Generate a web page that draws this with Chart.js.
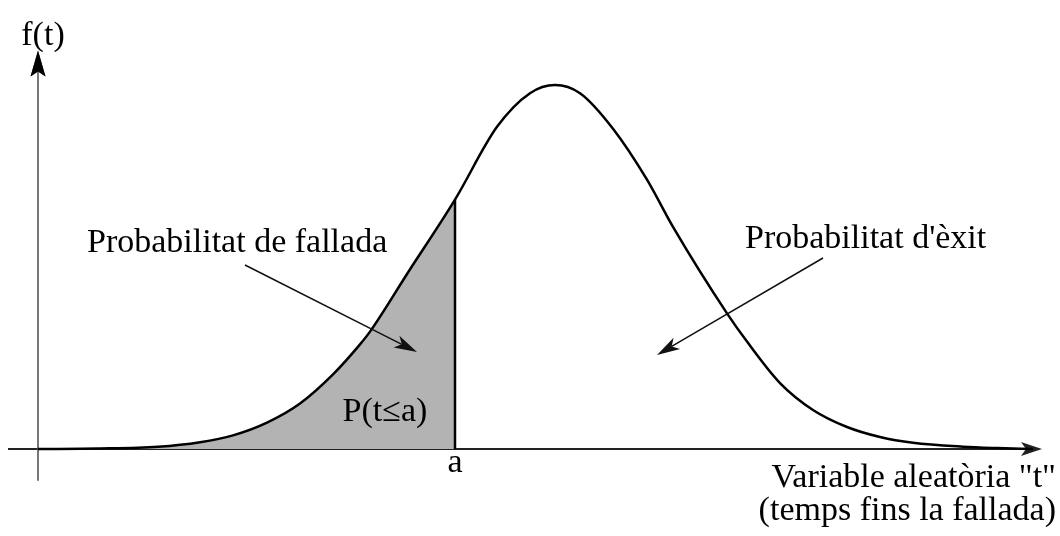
<!DOCTYPE html>
<html>
<head>
<meta charset="utf-8">
<script src="https://cdn.jsdelivr.net/npm/chart.js@4/dist/chart.umd.min.js"></script>
<style>
  html, body { margin: 0; padding: 0; background: #fff; }
  #wrap { width: 1060px; height: 536px; }
</style>
</head>
<body>
<div id="wrap"><canvas id="chart" width="1060" height="536"></canvas></div>
<script>
// density curve, values
const tValues = [0, 0.6, 1.2, 1.62, 1.95, 2.29, 2.62, 2.95, 3.22, 3.32, 3.7, 4.17, 4.59, 4.92, 5.17,
                 5.42, 5.75, 6.09, 6.35, 6.89, 7.09, 7.42, 7.75, 8.09, 8.42, 8.75, 9.25, 9.59, 9.95];
const fValues = [0, 0.0005, 0.0025, 0.0075, 0.015, 0.029, 0.050, 0.082, 0.115, 0.129, 0.194, 0.274, 0.354, 0.391, 0.400,
                 0.391, 0.352, 0.296, 0.244, 0.149, 0.118, 0.0725, 0.0429, 0.0242, 0.0132, 0.0068, 0.0025, 0.001, 0];
const aValue = 4.17;

const yAxisTitle = 'f(t)';
const xAxisTitle = ['Variable aleatòria "t"', '(temps fins la fallada)'];
const failText = 'Probabilitat de fallada';
const successText = "Probabilitat d'èxit";
const areaText = 'P(t≤a)';
const aText = 'a';

const curve = tValues.map((t, i) => ({ x: t, y: fValues[i] }));
const shaded = curve.filter(p => p.x <= aValue);
const fAtA = fValues[tValues.indexOf(aValue)];

// where the words and pointer arrows go (data units)
const notes = [
  { text: yAxisTitle, x: 0.05, y: 0.444, align: 'center' },
  { text: failText, x: 0.49, y: 0.2165, align: 'left' },
  { text: successText, x: 7.07, y: 0.2209, align: 'left' },
  { text: areaText, x: 3.47, y: 0.0308, align: 'center' },
  { text: aText, x: aValue, y: -0.0253, align: 'center' },
  { text: xAxisTitle[0], x: 10.18, y: -0.0418, align: 'right' },
  { text: xAxisTitle[1], x: 10.18, y: -0.078, align: 'right' }
];
const pointers = [
  { from: [2.07, 0.2022], to: [3.79, 0.1066] },
  { from: [7.85, 0.2099], to: [6.19, 0.1033] }
];

const FONT = '34px "Liberation Serif", "DejaVu Serif", serif';

function arrowHead(ctx, x, y, ang, L, W, N) {
  ctx.save();
  ctx.translate(x, y);
  ctx.rotate(ang);
  ctx.beginPath();
  ctx.moveTo(0, 0);
  ctx.lineTo(-L, -W);
  ctx.lineTo(-L + N, 0);
  ctx.lineTo(-L, W);
  ctx.closePath();
  ctx.fill();
  ctx.restore();
}

function arrowLine(ctx, x1, y1, x2, y2, L, W, N, lw, color) {
  const ang = Math.atan2(y2 - y1, x2 - x1);
  ctx.save();
  ctx.strokeStyle = color;
  ctx.fillStyle = color;
  ctx.lineWidth = lw;
  ctx.beginPath();
  ctx.moveTo(x1, y1);
  ctx.lineTo(x2 - Math.cos(ang) * (L - N), y2 - Math.sin(ang) * (L - N));
  ctx.stroke();
  arrowHead(ctx, x2, y2, ang, L, W, N);
  ctx.restore();
}

const axesPlugin = {
  id: 'axes',
  beforeDatasetsDraw(chart) {
    const { ctx, scales: { x, y } } = chart;
    // horizontal axis
    arrowLine(ctx, x.getPixelForValue(-0.30), y.getPixelForValue(0),
      x.getPixelForValue(10.04), y.getPixelForValue(0), 21, 7, 5, 2, '#222');
    // vertical axis
    arrowLine(ctx, x.getPixelForValue(0), y.getPixelForValue(-0.035),
      x.getPixelForValue(0), y.getPixelForValue(0.438), 26, 7.5, 5, 1.6, '#555');
    ctx.save();
    ctx.fillStyle = '#000';
    arrowHead(ctx, x.getPixelForValue(0), y.getPixelForValue(0.438), -Math.PI / 2, 26, 7.5, 5);
    ctx.restore();
  },
  afterDatasetsDraw(chart) {
    const { ctx, scales: { x, y } } = chart;
    pointers.forEach(p => {
      arrowLine(ctx, x.getPixelForValue(p.from[0]), y.getPixelForValue(p.from[1]),
        x.getPixelForValue(p.to[0]), y.getPixelForValue(p.to[1]), 23, 6.5, 6, 1.5, '#111');
    });
    ctx.save();
    ctx.font = FONT;
    ctx.fillStyle = '#000';
    ctx.textBaseline = 'alphabetic';
    notes.forEach(n => {
      ctx.textAlign = n.align;
      ctx.fillText(n.text, x.getPixelForValue(n.x), y.getPixelForValue(n.y));
    });
    ctx.restore();
  }
};

new Chart(document.getElementById('chart'), {
  type: 'line',
  data: {
    datasets: [
      {
        label: 'curve',
        data: curve,
        borderColor: '#000',
        borderWidth: 2.5,
        pointRadius: 0,
        fill: false,
        cubicInterpolationMode: 'monotone',
        order: 0
      },
      {
        label: 'a',
        data: [{ x: aValue, y: 0 }, { x: aValue, y: fAtA }],
        borderColor: '#000',
        borderWidth: 2.5,
        pointRadius: 0,
        fill: false,
        order: 1
      },
      {
        label: 'shaded',
        data: shaded,
        borderWidth: 0,
        borderColor: 'rgba(0,0,0,0)',
        backgroundColor: '#b3b3b3',
        pointRadius: 0,
        fill: 'origin',
        cubicInterpolationMode: 'monotone',
        order: 2
      }
    ]
  },
  options: {
    responsive: false,
    animation: false,
    layout: { padding: 0 },
    plugins: { legend: { display: false }, tooltip: { enabled: false } },
    scales: {
      x: { type: 'linear', min: -0.38, max: 10.22, display: false },
      y: { type: 'linear', min: -0.0956, max: 0.4934, display: false }
    }
  },
  plugins: [axesPlugin]
});
</script>
</body>
</html>
